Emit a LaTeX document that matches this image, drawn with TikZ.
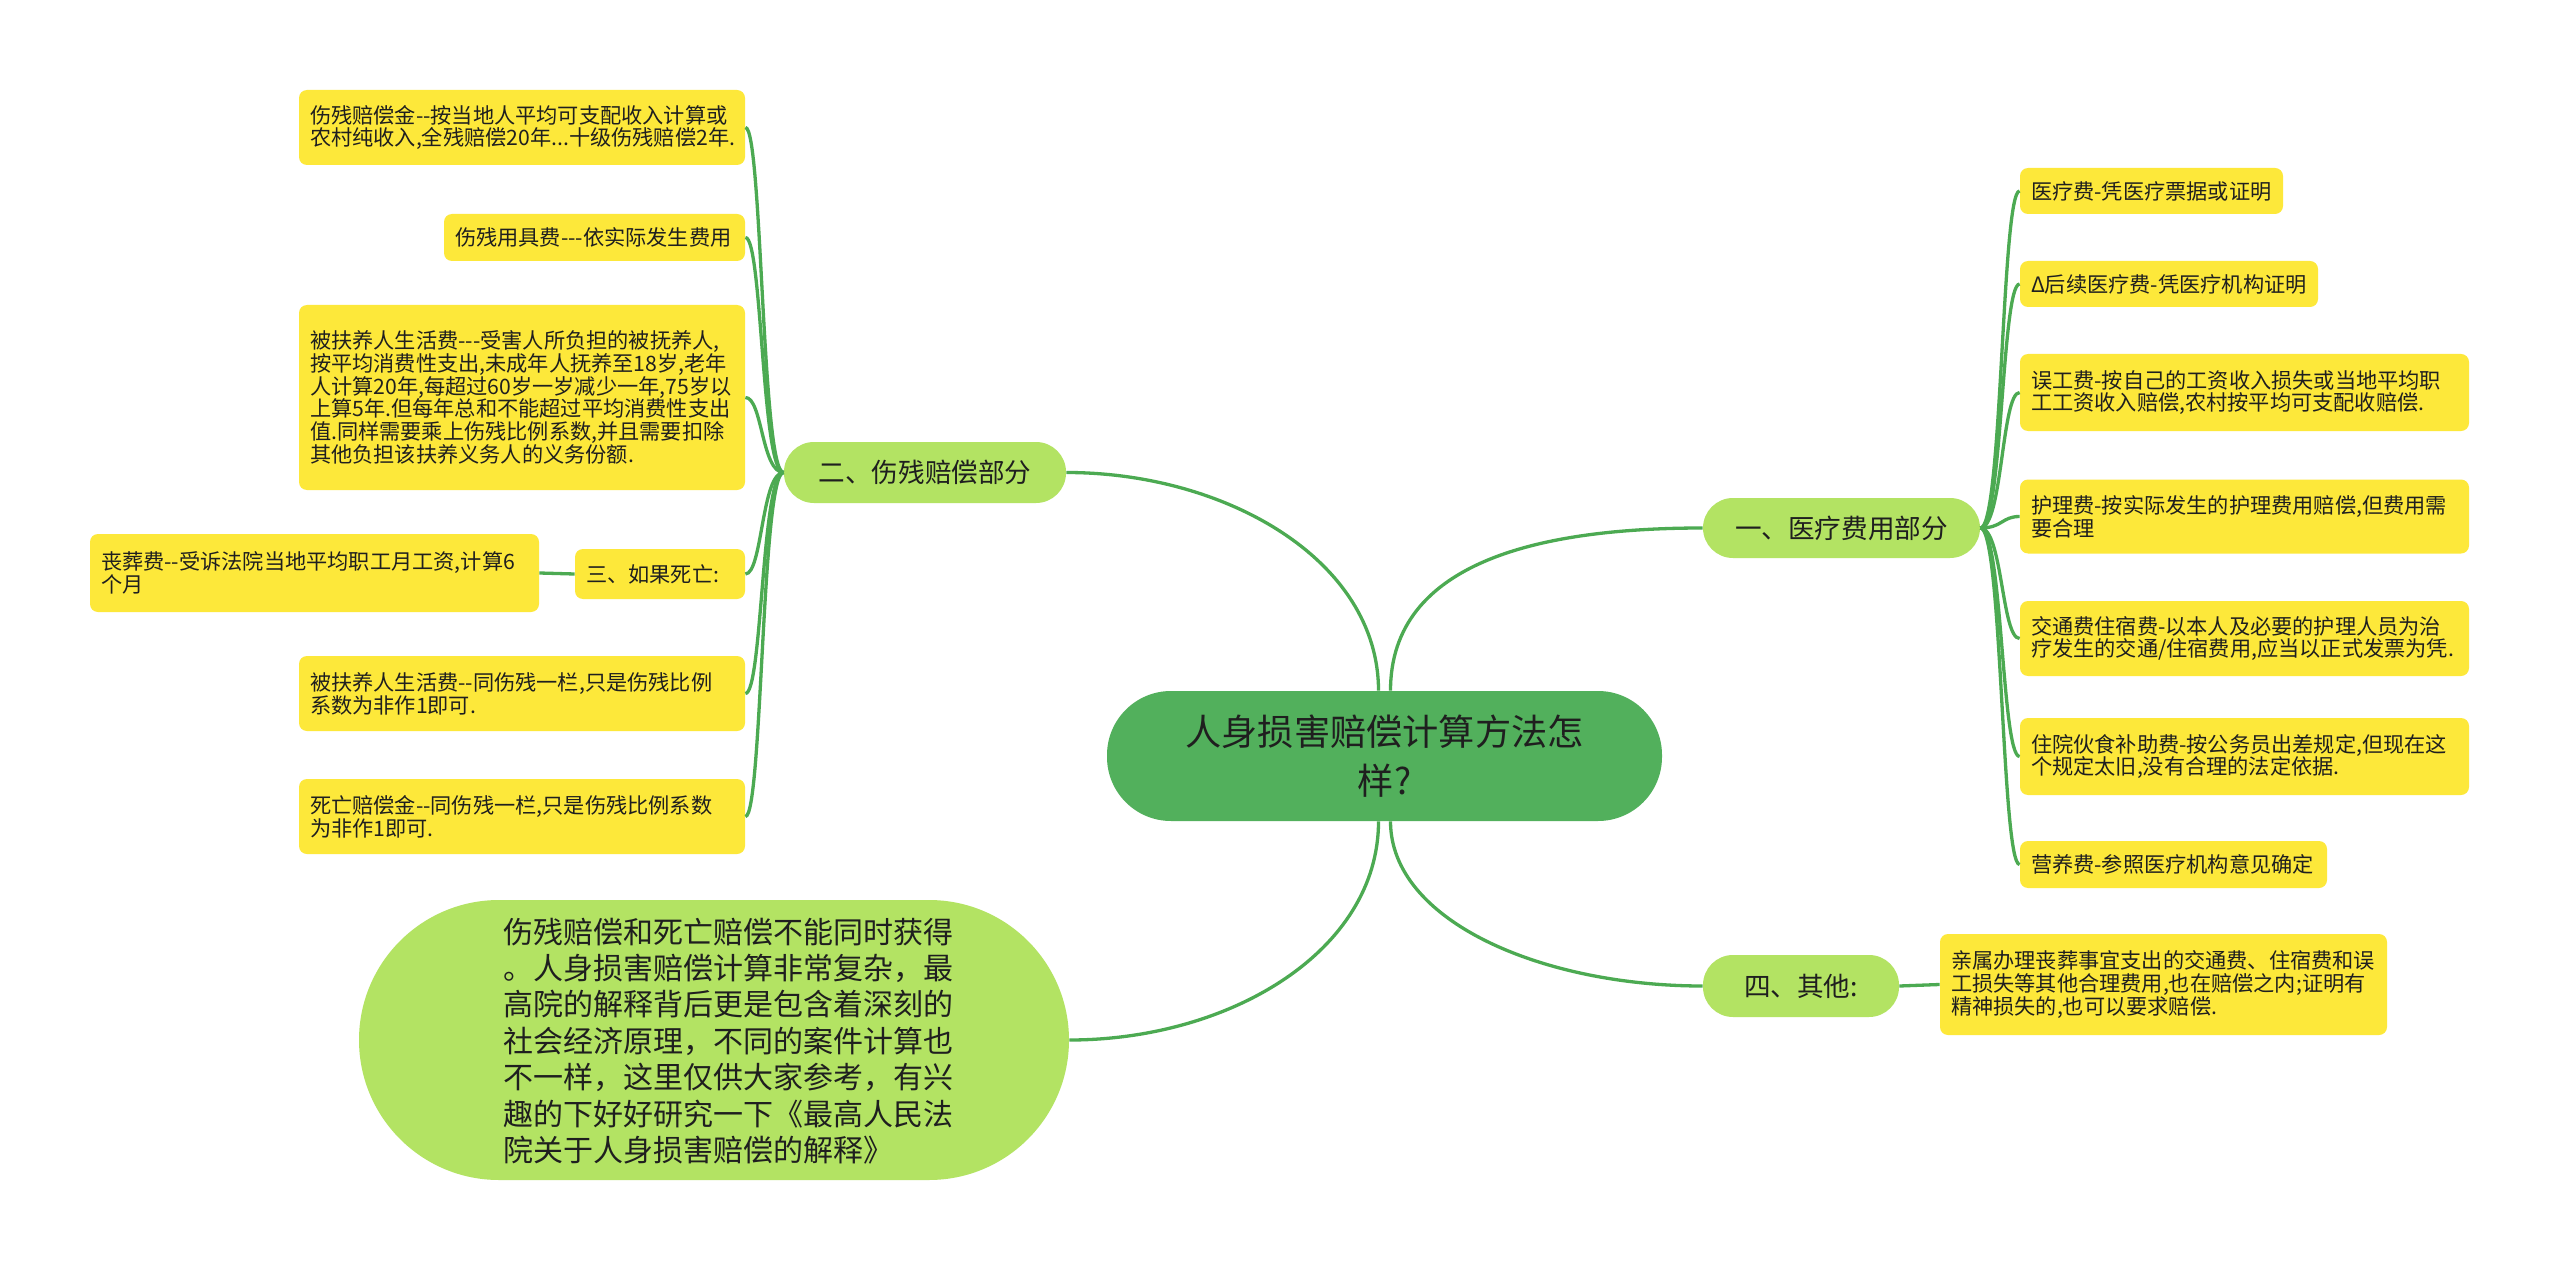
\documentclass[tikz,border=0pt]{standalone}
\usepackage{fontspec}
\newfontfamily\cjk{Noto Sans CJK SC}
\definecolor{leafc}{HTML}{FDE83A}
\definecolor{branchc}{HTML}{B3E363}
\definecolor{centralc}{HTML}{52B05C}
\definecolor{linec}{HTML}{4CAA52}
\definecolor{txt}{HTML}{1F1F1F}
\tikzset{
  leaf/.style={fill=leafc, rounded corners=4pt, font=\cjk\fontsize{10.6}{11.4}\selectfont, align=left, inner xsep=5.5pt, inner ysep=3pt, text=txt},
  branch/.style={fill=branchc, font=\cjk\fontsize{13.3}{16}\selectfont, text=txt, inner sep=0pt, align=center},
  link/.style={draw=linec, line width=1.65pt},
}
\begin{document}
\begin{tikzpicture}[x=0.5pt,y=-0.5pt]
\fill[white] (0,0) rectangle (2560,1273);
\useasboundingbox (0,0) rectangle (2560,1273);

% central
\node[fill=centralc, rounded corners=32pt, minimum width=277.5pt, minimum height=65pt, inner sep=0pt, align=center, text=txt, font=\cjk\fontsize{18.1}{24.5}\selectfont] (c) at (1384.5,756) {人身损害赔偿计算方法怎\\样?};

% branches
\node[branch, rounded corners=15pt, minimum width=141pt, minimum height=30.5pt] (b2) at (925,472.5) {二、伤残赔偿部分};
\node[branch, rounded corners=15pt, minimum width=138.5pt, minimum height=30pt] (b1) at (1841.5,528) {一、医疗费用部分};
\node[branch, rounded corners=15pt, minimum width=98pt, minimum height=31pt] (b4) at (1801,986) {四、其他:};
\node[fill=branchc, rounded corners=70pt, minimum width=355pt, minimum height=140pt, inner sep=0pt] (big) at (714,1040) {};
\node[text width=227pt, align=left, text=txt, inner sep=0pt, font=\cjk\fontsize{15}{18.2}\selectfont] (bigtext) at (730,1041) {伤残赔偿和死亡赔偿不能同时获得\\。人身损害赔偿计算非常复杂，最\\高院的解释背后更是包含着深刻的\\社会经济原理，不同的案件计算也\\不一样，这里仅供大家参考，有兴\\趣的下好好研究一下《最高人民法\\院关于人身损害赔偿的解释》};

% left leaves
\node[leaf, text width=212pt, minimum height=37.5pt] (l1) at (522,127.5) {伤残赔偿金{-}{-}按当地人平均可支配收入计算或\\农村纯收入,全残赔偿20年...十级伤残赔偿2年.};
\node[leaf, text width=139.5pt, minimum height=23.5pt] (l2) at (594.5,237.5) {伤残用具费{-}{-}{-}依实际发生费用};
\node[leaf, text width=212pt, minimum height=92.5pt] (l3) at (522,397.5) {被扶养人生活费{-}{-}{-}受害人所负担的被抚养人,\\按平均消费性支出,未成年人抚养至18岁,老年\\人计算20年,每超过60岁一岁减少一年,75岁以\\上算5年.但每年总和不能超过平均消费性支出\\值.同样需要乘上伤残比例系数,并且需要扣除\\其他负担该扶养义务人的义务份额.};
\node[leaf, text width=74pt, minimum height=25pt] (l4) at (660,574) {三、如果死亡:};
\node[leaf, text width=213.5pt, minimum height=39pt] (l4a) at (314.5,573) {丧葬费{-}{-}受诉法院当地平均职工月工资,计算6\\个月};
\node[leaf, text width=212pt, minimum height=37.5pt] (l5) at (522,693.5) {被扶养人生活费{-}{-}同伤残一栏,只是伤残比例\\系数为非作1即可.};
\node[leaf, text width=212pt, minimum height=37.5pt] (l6) at (522,816.5) {死亡赔偿金{-}{-}同伤残一栏,只是伤残比例系数\\为非作1即可.};

% right leaves
\node[leaf, text width=120.5pt, minimum height=23pt] (r1) at (2151.5,191) {医疗费-凭医疗票据或证明};
\node[leaf, text width=138pt, minimum height=23pt] (r2) at (2169,284) {Δ后续医疗费-凭医疗机构证明};
\node[leaf, text width=213.5pt, minimum height=38.5pt] (r3) at (2244.5,392.5) {误工费-按自己的工资收入损失或当地平均职\\工工资收入赔偿,农村按平均可支配收赔偿.};
\node[leaf, text width=213.5pt, minimum height=37pt] (r4) at (2244.5,516.5) {护理费-按实际发生的护理费用赔偿,但费用需\\要合理};
\node[leaf, text width=213.5pt, minimum height=37.5pt] (r5) at (2244.5,638.5) {交通费住宿费-以本人及必要的护理人员为治\\疗发生的交通/住宿费用,应当以正式发票为凭.};
\node[leaf, text width=213.5pt, minimum height=38.5pt] (r6) at (2244.5,756.5) {住院伙食补助费-按公务员出差规定,但现在这\\个规定太旧,没有合理的法定依据.};
\node[leaf, text width=142.5pt, minimum height=23.5pt] (r7) at (2173.5,864.5) {营养费-参照医疗机构意见确定};
\node[leaf, text width=212.5pt, minimum height=50.5pt] (r8) at (2163.5,984.5) {亲属办理丧葬事宜支出的交通费、住宿费和误\\工损失等其他合理费用,也在赔偿之内;证明有\\精神损失的,也可以要求赔偿.};

% central connectors
\draw[link] ([xshift=-3pt]c.north) .. controls +(0,-130) and +(160,0) .. (b2.east);
\draw[link] ([xshift=3pt]c.north) .. controls +(0,-130) and +(-160,0) .. (b1.west);
\draw[link] ([xshift=-3pt]c.south) .. controls +(0,130) and +(160,0) .. (big.east);
\draw[link] ([xshift=3pt]c.south) .. controls +(0,100) and +(-160,0) .. (b4.west);

% left connectors
\foreach \n in {l1,l2,l3,l4,l5,l6}{
  \draw[link] (b2.west) .. controls +(-22,0) and +(17,0) .. (\n.east);
}
\draw[link] (l4.west) -- (l4a.east);

% right connectors
\foreach \n in {r1,r2,r3,r4,r5,r6,r7}{
  \draw[link] (b1.east) .. controls +(22,0) and +(-18,0) .. (\n.west);
}
\draw[link] (b4.east) -- (r8.west);
\end{tikzpicture}
\end{document}
